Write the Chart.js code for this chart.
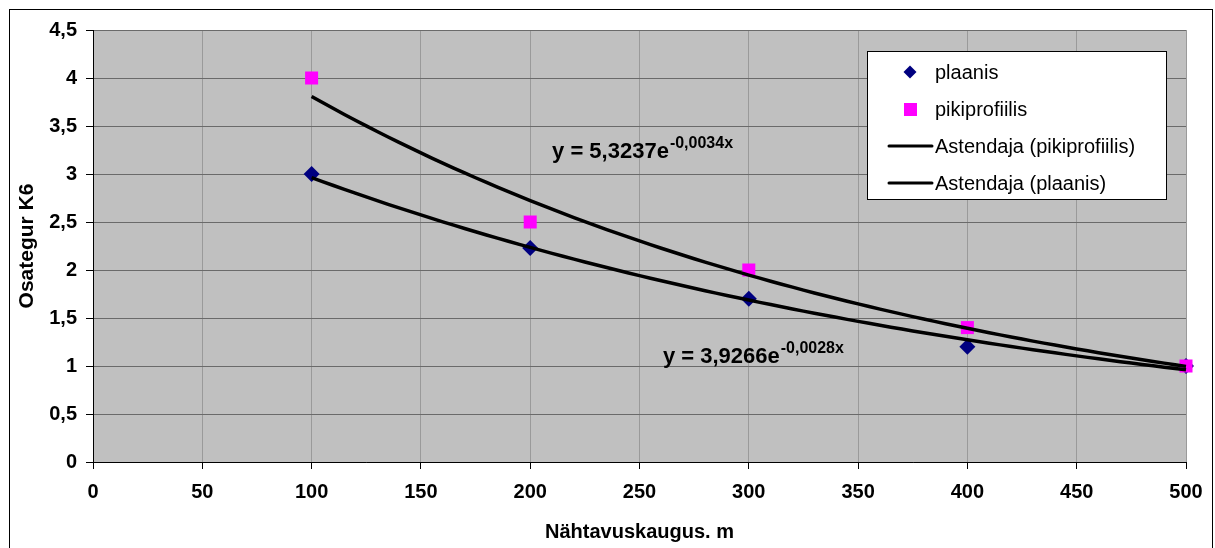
<!DOCTYPE html>
<html>
<head>
<meta charset="utf-8">
<script src="https://cdn.jsdelivr.net/npm/chart.js@4.4.1/dist/chart.umd.min.js"></script>
<style>
  html, body { margin: 0; padding: 0; background: #fff; }
  #wrap { width: 1215px; height: 548px; }
</style>
</head>
<body>
<div id="wrap"><canvas id="myChart" width="1215" height="548"></canvas></div>
<script>
// andmed (loetud pildilt)
const xValues = [100, 200, 300, 400, 500];
const plaanis = [3.0, 2.23, 1.7, 1.2, 1.0];
const pikiprofiilis = [4.0, 2.5, 2.0, 1.4, 1.0];
const xTicks = [0, 50, 100, 150, 200, 250, 300, 350, 400, 450, 500];
const yTicks = [0, 0.5, 1, 1.5, 2, 2.5, 3, 3.5, 4, 4.5];
const seriesNames = ['plaanis', 'pikiprofiilis', 'Astendaja (pikiprofiilis)', 'Astendaja (plaanis)'];
const eqPiki = ['y = 5,3237e', '-0,0034x'];
const eqPlaanis = ['y = 3,9266e', '-0,0028x'];

const FONT = '"Liberation Sans", Arial, sans-serif';

// eksponentsiaalne trendijoon (vähimruutude meetod ln(y) peal, nagu Excel)
function expFit(xs, ys) {
    const n = xs.length;
    const ly = ys.map(v => Math.log(v));
    const mx = xs.reduce((a, b) => a + b, 0) / n;
    const my = ly.reduce((a, b) => a + b, 0) / n;
    let sxy = 0, sxx = 0;
    for (let i = 0; i < n; i++) {
        sxy += (xs[i] - mx) * (ly[i] - my);
        sxx += (xs[i] - mx) * (xs[i] - mx);
    }
    const b = sxy / sxx;
    const a = Math.exp(my - b * mx);
    return { a, b };
}

function trendPoints(xs, ys) {
    const f = expFit(xs, ys);
    const pts = [];
    const x0 = Math.min(...xs), x1 = Math.max(...xs);
    for (let x = x0; x <= x1; x += 5) pts.push({ x: x, y: f.a * Math.exp(f.b * x) });
    return pts;
}

const toXY = (xs, ys) => xs.map((x, i) => ({ x: x, y: ys[i] }));

// valge taust + raam
const framePlugin = {
    id: 'frame',
    beforeDraw(chart) {
        const ctx = chart.ctx;
        ctx.save();
        ctx.fillStyle = '#fff';
        ctx.fillRect(0, 0, chart.width, chart.height);
        ctx.strokeStyle = '#000';
        ctx.lineWidth = 1;
        ctx.strokeRect(9.5, 9.5, 1203, 560);
        const a = chart.chartArea;
        ctx.fillStyle = '#c0c0c0';
        ctx.fillRect(a.left, a.top, a.right - a.left, a.bottom - a.top);
        ctx.restore();
    }
};

// võrrandid graafikul
const eqPositions = [
    { text: eqPiki, x: 210, y: 3.163 },
    { text: eqPlaanis, x: 260.7, y: 1.028 }
];
const equationPlugin = {
    id: 'equations',
    afterDatasetsDraw(chart) {
        const ctx = chart.ctx;
        const xs = chart.scales.x, ys = chart.scales.y;
        ctx.save();
        ctx.fillStyle = '#000';
        ctx.textBaseline = 'alphabetic';
        eqPositions.forEach(eq => {
            const px = xs.getPixelForValue(eq.x);
            const py = ys.getPixelForValue(eq.y);
            ctx.font = 'bold 22px ' + FONT;
            ctx.fillText(eq.text[0], px, py);
            const w = ctx.measureText(eq.text[0]).width;
            ctx.font = 'bold 16px ' + FONT;
            ctx.fillText(eq.text[1], px + w + 1, py - 10);
        });
        ctx.restore();
    }
};

// legend kastis
const legendPlugin = {
    id: 'boxLegend',
    afterDraw(chart) {
        const ctx = chart.ctx;
        ctx.save();
        ctx.fillStyle = '#fff';
        ctx.fillRect(867, 51, 299, 148);
        ctx.strokeStyle = '#000';
        ctx.lineWidth = 1;
        ctx.strokeRect(867.5, 51.5, 299, 148);
        const rows = [72, 109, 146, 183];
        chart.data.datasets.forEach((ds, i) => {
            const y = rows[i];
            if (ds.showLine) {
                ctx.strokeStyle = ds.borderColor;
                ctx.lineWidth = 3;
                ctx.lineCap = 'round';
                ctx.beginPath();
                ctx.moveTo(889, y);
                ctx.lineTo(932, y);
                ctx.stroke();
            } else if (ds.pointStyle === 'rectRot') {
                ctx.fillStyle = ds.backgroundColor;
                ctx.beginPath();
                ctx.moveTo(910, y - 6.5);
                ctx.lineTo(916.5, y);
                ctx.lineTo(910, y + 6.5);
                ctx.lineTo(903.5, y);
                ctx.closePath();
                ctx.fill();
            } else {
                ctx.fillStyle = ds.backgroundColor;
                ctx.fillRect(904, y - 6, 13, 13);
            }
            ctx.fillStyle = '#000';
            ctx.font = '20px ' + FONT;
            ctx.textBaseline = 'middle';
            ctx.fillText(ds.label, 935, y + 1);
        });
        ctx.restore();
    }
};

const ctx = document.getElementById('myChart').getContext('2d');
const myChart = new Chart(ctx, {
    type: 'scatter',
    data: {
        datasets: [
            {
                label: seriesNames[0],
                data: toXY(xValues, plaanis),
                pointStyle: 'rectRot',
                pointRadius: 8,
                backgroundColor: '#000080',
                borderColor: '#000080',
                borderWidth: 0,
                clip: false,
                order: 2
            },
            {
                label: seriesNames[1],
                data: toXY(xValues, pikiprofiilis),
                pointStyle: 'rect',
                pointRadius: 9.2,
                backgroundColor: '#ff00ff',
                borderColor: '#ff00ff',
                borderWidth: 0,
                clip: false,
                order: 1
            },
            {
                label: seriesNames[2],
                data: trendPoints(xValues, pikiprofiilis),
                showLine: true,
                pointRadius: 0,
                borderColor: '#000',
                borderWidth: 3.5,
                tension: 0,
                clip: false,
                order: 0
            },
            {
                label: seriesNames[3],
                data: trendPoints(xValues, plaanis),
                showLine: true,
                pointRadius: 0,
                borderColor: '#000',
                borderWidth: 3.5,
                tension: 0,
                clip: false,
                order: 0
            }
        ]
    },
    options: {
        responsive: false,
        animation: false,
        layout: { padding: { left: 0, right: 29, top: 30, bottom: 0 } },
        plugins: {
            legend: { display: false },
            tooltip: { enabled: false }
        },
        scales: {
            x: {
                type: 'linear',
                min: 0,
                max: 500,
                afterBuildTicks: s => { s.ticks = xTicks.map(v => ({ value: v })); },
                afterFit: s => { s.height = 86; },
                ticks: {
                    color: '#000',
                    font: { family: FONT, size: 20, weight: 'bold' },
                    padding: 11,
                    maxRotation: 0,
                    autoSkip: false
                },
                grid: { color: '#9a9a9a', lineWidth: 1, tickLength: 7, tickColor: '#000' },
                border: { color: '#000', width: 1 },
                title: {
                    display: true,
                    text: 'Nähtavuskaugus. m',
                    color: '#000',
                    font: { family: FONT, size: 20, weight: 'bold' },
                    padding: { top: 0, bottom: 4 }
                }
            },
            y: {
                type: 'linear',
                min: 0,
                max: 4.5,
                afterBuildTicks: s => { s.ticks = yTicks.map(v => ({ value: v })); },
                afterFit: s => { s.width = 93; },
                ticks: {
                    color: '#000',
                    font: { family: FONT, size: 20, weight: 'bold' },
                    padding: 9,
                    callback: v => String(v).replace('.', ',')
                },
                grid: { color: '#6a6a6a', lineWidth: 1, tickLength: 7, tickColor: '#000' },
                border: { color: '#000', width: 1 },
                title: {
                    display: true,
                    text: 'Osategur K6',
                    color: '#000',
                    font: { family: FONT, size: 21, weight: 'bold' },
                    padding: { top: 15, bottom: 0 }
                }
            }
        }
    },
    plugins: [framePlugin, equationPlugin, legendPlugin]
});
</script>
</body>
</html>
